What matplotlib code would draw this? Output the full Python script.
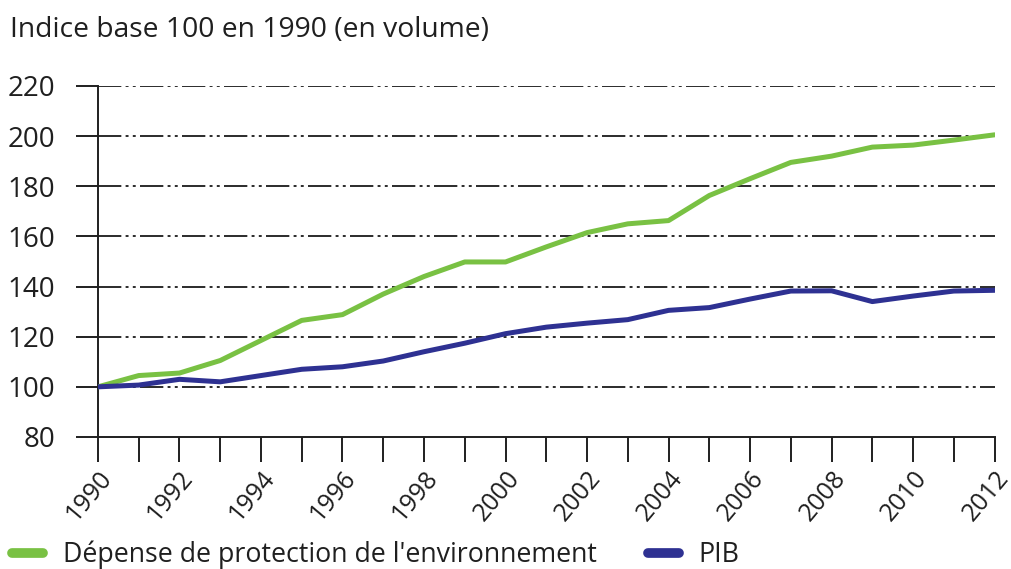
import matplotlib
matplotlib.use("Agg")
import matplotlib.pyplot as plt
from matplotlib.lines import Line2D

plt.rcParams['font.family'] = ['Open Sans', 'DejaVu Sans']

years = list(range(1990, 2013))
depense = [100, 104.5, 105.5, 110.5, 118.5, 126.5, 128.8, 137, 144, 149.8, 149.8, 155.8,
           161.5, 165, 166.3, 176.3, 183, 189.5, 192, 195.6, 196.4, 198.4, 200.5]
pib = [100, 100.7, 103, 102, 104.5, 107, 108, 110.3, 114, 117.4, 121.2, 123.8,
       125.4, 126.8, 130.5, 131.6, 135, 138.2, 138.3, 134, 136.2, 138.2, 138.5]

title = "Indice base 100 en 1990 (en volume)"
label_dep = "Dépense de protection de l'environnement"
label_pib = "PIB"
green = "#79c143"
navy = "#2e3192"
ink = "#1f1f1f"

fig = plt.figure(figsize=(10.12, 5.69), dpi=100)
ax = fig.add_axes([0.0968, 0.232, 0.886, 0.617])

ax.plot(years, depense, color=green, lw=3.6, solid_capstyle='round', zorder=3)
ax.plot(years, pib, color=navy, lw=3.6, solid_capstyle='round', zorder=3)

ax.set_xlim(1990, 2012)
ax.set_ylim(80, 220)
ax.set_yticks(range(80, 221, 20))
ax.set_xticks(range(1990, 2013, 2))
ax.set_xticks(range(1990, 2013), minor=True)

for v in range(100, 221, 20):
    ax.axhline(v, color="#2b2b2b", lw=1.4, ls=(0, (12, 2.2, 1.5, 2.2, 1.5, 2.2)), zorder=1)

for s in ['top', 'right']:
    ax.spines[s].set_visible(False)
for s in ['left', 'bottom']:
    ax.spines[s].set_linewidth(1.4)
    ax.spines[s].set_color(ink)

ax.tick_params(axis='y', length=16, width=1.4, labelsize=20, colors=ink, pad=15)
ax.tick_params(axis='x', which='both', length=18, width=1.4, colors=ink)
ax.tick_params(axis='x', which='major', labelsize=18, pad=3)
for lab in ax.get_xticklabels():
    lab.set_rotation(50)
    lab.set_ha('right')
    lab.set_va('top')
    lab.set_rotation_mode('anchor')

fig.text(0.01, 0.947, title, fontsize=20.3, color=ink, ha='left', va='center')

handles = [Line2D([], [], color=green, lw=7, solid_capstyle='round'),
           Line2D([], [], color=navy, lw=7, solid_capstyle='round')]
fig.legend(handles, [label_dep, label_pib], loc='center left',
           bbox_to_anchor=(0.012, 1 - 555 / 569),
           ncol=2, frameon=False, fontsize=19.3, handlelength=1.15, handletextpad=0.75,
           columnspacing=1.9, labelcolor=ink, borderpad=0, borderaxespad=0)

fig.savefig("out.png", dpi=100)
